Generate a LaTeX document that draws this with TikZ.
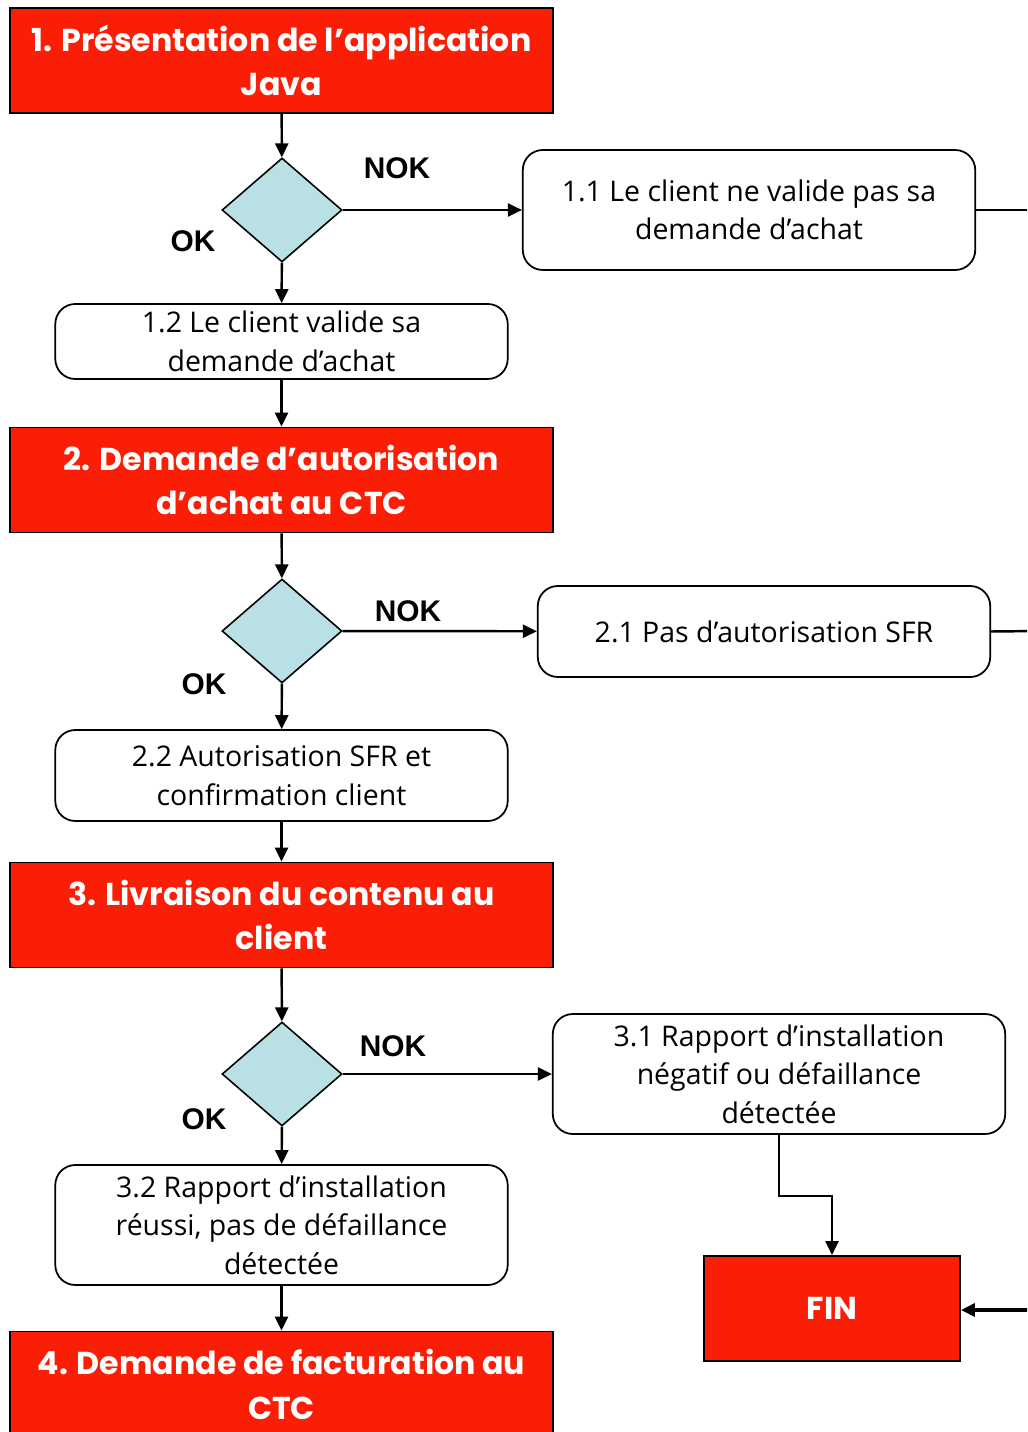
\documentclass[tikz,border=0pt]{standalone}
\usepackage{fontspec}
\setmainfont{Open Sans}
\newfontfamily\titrefont{Poppins}
\newfontfamily\reponsefont{Liberation Sans}
\usetikzlibrary{arrows.meta,shapes.geometric,positioning}

\definecolor{rouge}{RGB}{250,30,6}
\definecolor{bleuclair}{RGB}{185,224,228}

\tikzset{
  etape/.style={draw=black, line width=1.1pt, fill=rouge, text=white, inner sep=0pt,
    minimum width=10.86cm, minimum height=2.1cm, align=center,
    font=\titrefont\bfseries\fontsize{18}{25.5}\selectfont},
  choix/.style={diamond, draw=black, line width=0.9pt, fill=bleuclair, inner sep=0pt,
    minimum width=2.4cm, minimum height=2.08cm},
  cas/.style={draw=black, line width=1pt, rounded corners=0.4cm, inner sep=0pt,
    minimum width=9.05cm, align=center, font=\fontsize{16.2}{22}\selectfont},
  reponse/.style={font=\reponsefont\bfseries\fontsize{17}{20}\selectfont},
  fleche/.style={-{Triangle[length=0.28cm,width=0.26cm]}, line width=1.4pt},
}

\begin{document}
\begin{tikzpicture}[x=0.02cm, y=-0.02cm]
  \useasboundingbox (0,0) rectangle (1027,1432);
  \clip (0,0) rectangle (1027,1432);

  % etapes principales
  \node[etape] (e1) at (281.5,60.5) {1. Présentation de l’application\\Java};
  \node[etape] (e2) at (281.5,480) {2. Demande d’autorisation\\d’achat au CTC};
  \node[etape] (e3) at (281.5,915) {3. Livraison du contenu au\\client};
  \node[etape] (e4) at (281.5,1384) {4. Demande de facturation au\\CTC};
  \node[etape, minimum width=5.12cm] (fin) at (832,1308.5) {FIN};

  % tests
  \node[choix] (t1) at (282,210) {};
  \node[choix] (t2) at (282,631) {};
  \node[choix] (t3) at (282,1074) {};

  % cas
  \node[cas, minimum height=2.4cm] (c11) at (749,210) {1.1 Le client ne valide pas sa\\demande d’achat};
  \node[cas, minimum height=1.5cm] (c12) at (281.5,341.5) {1.2 Le client valide sa\\demande d’achat};
  \node[cas, minimum height=1.82cm] (c21) at (764,631.5) {2.1 Pas d’autorisation SFR};
  \node[cas, minimum height=1.82cm] (c22) at (281.5,775.5) {2.2 Autorisation SFR et\\confirmation client};
  \node[cas, minimum height=2.4cm] (c31) at (779,1074) {3.1 Rapport d’installation\\négatif ou défaillance\\détectée};
  \node[cas, minimum height=2.4cm] (c32) at (281.5,1225) {3.2 Rapport d’installation\\réussi, pas de défaillance\\détectée};

  % reponses
  \node[reponse] (nok1) at (397,168) {NOK};
  \node[reponse] (ok1) at (193,241) {OK};
  \node[reponse] (nok2) at (408,611) {NOK};
  \node[reponse] (ok2) at (204,684) {OK};
  \node[reponse] (nok3) at (393,1046) {NOK};
  \node[reponse] (ok3) at (204,1119) {OK};

  % bord droit
  \coordinate (b1) at (1040,210);
  \coordinate (b2) at (1040,631);
  \coordinate (b3) at (1040,1310);

  % liaisons
  \draw[fleche] (e1) -- (t1);
  \draw[fleche] (t1) -- (c11);
  \draw[fleche] (t1) -- (c12);
  \draw[fleche] (c12) -- (e2);
  \draw[fleche] (e2) -- (t2);
  \draw[fleche] (t2) -- (c21);
  \draw[fleche] (t2) -- (c22);
  \draw[fleche] (c22) -- (e3);
  \draw[fleche] (e3) -- (t3);
  \draw[fleche] (t3) -- (c31.west |- t3);
  \draw[fleche] (t3) -- (c32);
  \draw[fleche] (c32) -- (e4);
  \draw[fleche] (c31.south) -- ++(0,61) -| (fin.north);
  \draw[line width=1.4pt] (c11.east) -- (b1);
  \draw[line width=1.4pt] (c21.east) -- (b2);
  \draw[fleche, line width=2.2pt] (b3) -- (fin.east |- b3);
\end{tikzpicture}
\end{document}
